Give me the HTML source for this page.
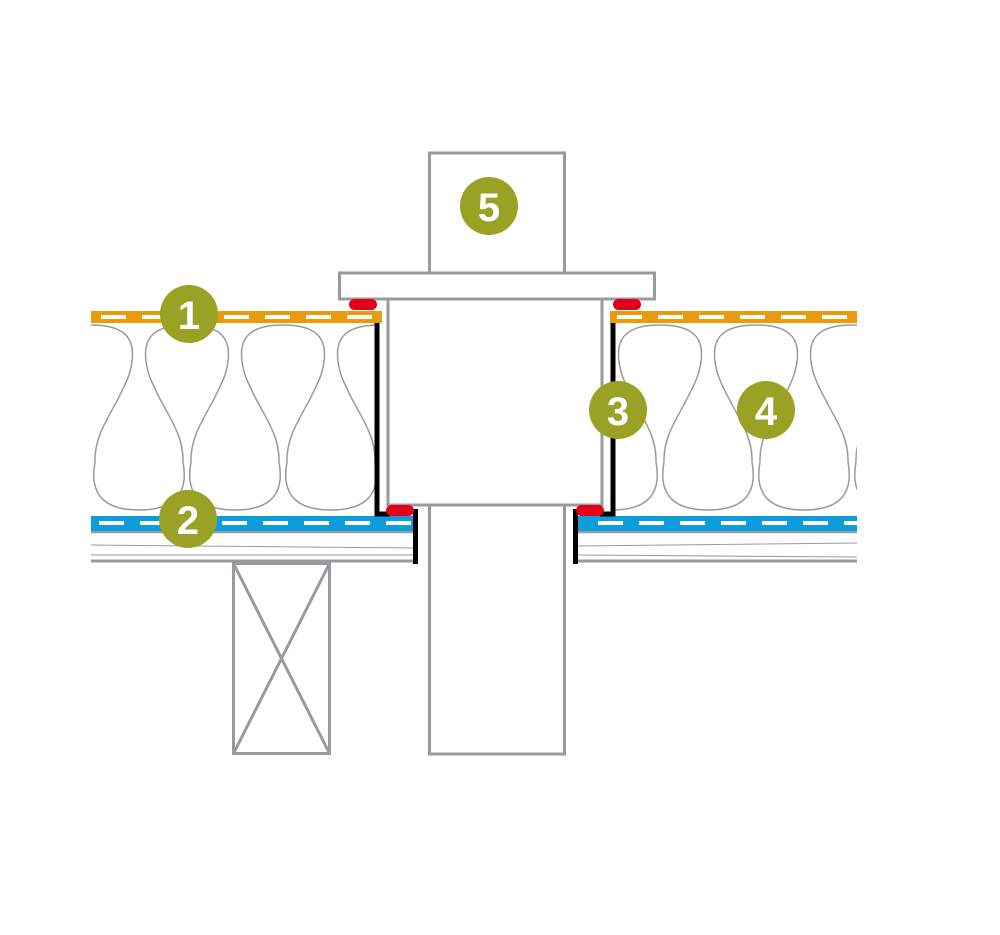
<!DOCTYPE html>
<html><head><meta charset="utf-8"><style>html,body{margin:0;padding:0;background:#fff}svg{display:block}</style></head>
<body>
<svg width="1000" height="935" viewBox="0 0 1000 935" xmlns="http://www.w3.org/2000/svg">
<defs>
<clipPath id="cl"><rect x="91" y="323" width="284" height="193"/></clipPath>
<clipPath id="cr"><rect x="615" y="323" width="242" height="193"/></clipPath>
<g id="u" fill="none" stroke="#9a9a9e" stroke-width="1.5">
<path d="M-38,375 C-50,335 -30,325 0,325 C30,325 50,335 38,375"/>
<path d="M38,375 C25,410 3,430 4,462"/>
<path d="M-38,375 C-25,410 -3,430 -4,462"/>
<path d="M4,462 C-3,500 20,510 48,510 C76,510 99,500 92,462"/>
</g>
</defs>
<g clip-path="url(#cl)">
<use href="#u" x="-5"/><use href="#u" x="91"/><use href="#u" x="187"/><use href="#u" x="283"/><use href="#u" x="379"/>
</g>
<g clip-path="url(#cr)">
<use href="#u" x="468"/><use href="#u" x="564"/><use href="#u" x="660"/><use href="#u" x="756"/><use href="#u" x="852"/>
</g>
<g stroke="#9a9a9e" fill="none">
<line x1="91" y1="532" x2="415" y2="532" stroke-width="2.5"/>
<line x1="91" y1="561" x2="415" y2="561" stroke-width="3"/>
<line x1="91" y1="545" x2="415" y2="548" stroke-width="1"/>
<line x1="91" y1="555" x2="415" y2="555" stroke-width="1"/>
<line x1="578" y1="532" x2="857" y2="532" stroke-width="2.5"/>
<line x1="578" y1="561" x2="857" y2="561" stroke-width="3"/>
<line x1="578" y1="546" x2="857" y2="543" stroke-width="1"/>
<line x1="578" y1="555" x2="857" y2="557" stroke-width="1"/>
</g>
<rect x="91" y="311" width="291" height="12" fill="#e89c0c"/>
<rect x="610" y="311" width="247" height="12" fill="#e89c0c"/>
<rect x="91" y="516" width="324" height="15" fill="#0d9ddb"/>
<rect x="578" y="516" width="279" height="15" fill="#0d9ddb"/>
<line x1="101" y1="317" x2="382" y2="317" stroke="#fff" stroke-width="4" stroke-dasharray="25,16"/>
<line x1="617" y1="317" x2="857" y2="317" stroke="#fff" stroke-width="4" stroke-dasharray="25,16"/>
<line x1="91" y1="523" x2="415" y2="523" stroke="#fff" stroke-width="4" stroke-dasharray="25,16" stroke-dashoffset="-8"/>
<line x1="598" y1="523" x2="857" y2="523" stroke="#fff" stroke-width="4" stroke-dasharray="25,16"/>
<g fill="#fff" stroke="#9a9a9e" stroke-width="3">
<rect x="429.5" y="153" width="135" height="120"/>
<rect x="339.5" y="273" width="315" height="26"/>
<rect x="388" y="299" width="214" height="206"/>
<rect x="429.5" y="505" width="135" height="249"/>
<rect x="233.5" y="563.5" width="96" height="190"/>
<line x1="233.5" y1="563.5" x2="329.5" y2="753.5"/>
<line x1="329.5" y1="563.5" x2="233.5" y2="753.5"/>
</g>
<g stroke="#000" stroke-width="5" fill="none">
<polyline points="377,323 377,514 390,514"/>
<line x1="415.5" y1="509" x2="415.5" y2="564"/>
<polyline points="613,323 613,514 600,514"/>
<line x1="575.5" y1="509" x2="575.5" y2="564"/>
</g>
<g fill="#e2001a">
<rect x="349" y="299" width="28" height="11" rx="5.5"/>
<rect x="613" y="299" width="28" height="11" rx="5.5"/>
<rect x="386" y="505" width="28" height="11" rx="5.5"/>
<rect x="576" y="505" width="28" height="11" rx="5.5"/>
</g>
<g font-family="Liberation Sans, sans-serif" font-weight="bold" font-size="40" fill="#fff" text-anchor="middle">
<circle cx="189" cy="314" r="29" fill="#9aa226"/><text x="189" y="329">1</text>
<circle cx="188" cy="519" r="29" fill="#9aa226"/><text x="188" y="534">2</text>
<circle cx="618" cy="410" r="29" fill="#9aa226"/><text x="618" y="425">3</text>
<circle cx="766" cy="410" r="29" fill="#9aa226"/><text x="766" y="425">4</text>
<circle cx="489" cy="206" r="29" fill="#9aa226"/><text x="489" y="221">5</text>
</g>
</svg>
</body></html>
